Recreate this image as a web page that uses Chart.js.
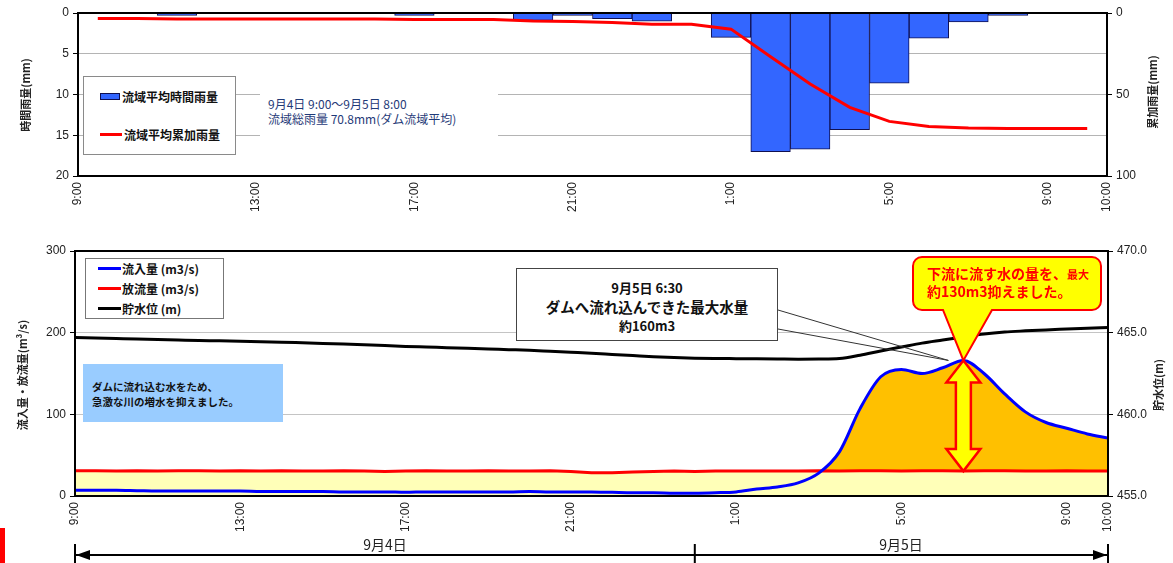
<!DOCTYPE html>
<html lang="ja">
<head>
<meta charset="utf-8">
<script src="https://cdn.jsdelivr.net/npm/chart.js@4.4.1/dist/chart.umd.min.js"></script>
<style>
  body { margin: 0; background: #fff; }
  #page { position: relative; width: 1173px; height: 563px; overflow: hidden; font-family: "Noto Sans CJK JP", sans-serif; }
  canvas { position: absolute; left: 0; }
  .box { position: absolute; box-sizing: border-box; }
  .title { position: absolute; transform: translate(-50%, -50%) rotate(-90deg); white-space: nowrap; font-size: 11px; font-weight: bold; color: #222; }
  .legend { display: flex; flex-direction: column; justify-content: space-around; background: #fff; }
  .legend .row { display: flex; align-items: center; white-space: nowrap; color: #111; }
  .day { position: absolute; transform: translate(-50%, -50%); font-size: 14px; color: #222; white-space: nowrap; }
</style>
</head>
<body>
<div id="page">
  <canvas id="rainChart" width="1173" height="230" style="top:0;width:1173px;height:230px"></canvas>
  <canvas id="flowChart" width="1173" height="333" style="top:230px;width:1173px;height:333px"></canvas>

  <!-- top chart overlays -->
  <div id="rainLegend" class="box legend" style="left:83px;top:76px;width:153px;height:79px;border:1px solid #8a8a8a;padding-left:16px;font-size:12px;font-weight:bold;"></div>
  <div class="box" style="left:260px;top:90px;width:238px;height:50px;background:#fff;padding:6px 0 0 8px;font-size:12px;line-height:15px;color:#1f3a78;white-space:nowrap;">
    9月4日 9:00～9月5日 8:00<br>流域総雨量 70.8mm(ダム流域平均)
  </div>
  <div class="title" style="left:25px;top:95px;">時間雨量(mm)</div>
  <div class="title" style="left:1152px;top:92px;">累加雨量(mm)</div>

  <!-- bottom chart overlays -->
  <div id="flowLegend" class="box legend" style="left:85px;top:258px;width:139px;height:61px;border:1px solid #777;padding-left:12px;font-size:12px;font-weight:bold;"></div>
  <div class="box" style="left:83px;top:364px;width:200px;height:58px;background:#99ccff;padding:15px 0 0 9px;font-size:10.5px;line-height:15px;font-weight:bold;color:#111;white-space:nowrap;">
    ダムに流れ込む水をため、<br>急激な川の増水を抑えました。
  </div>
  <div class="box" style="left:516px;top:268px;width:262px;height:73px;background:#fff;border:1.5px solid #444;text-align:center;font-weight:bold;color:#111;white-space:nowrap;">
    <div style="font-size:13px;line-height:19px;margin-top:9px;">9月5日 6:30</div>
    <div style="font-size:14.5px;line-height:19px;">ダムへ流れ込んできた最大水量</div>
    <div style="font-size:13px;line-height:19px;">約160m3</div>
  </div>
  <div class="box" style="left:913px;top:257px;width:188px;height:53px;padding:8px 0 0 14px;font-size:14px;line-height:17px;font-weight:bold;color:#ff0000;white-space:nowrap;">
    下流に流す水の量を、<span style="font-size:11px">最大</span><br>約130m3抑えました。
  </div>
  <div class="title" style="left:22px;top:375px;">流入量・放流量(m³/s)</div>
  <div class="title" style="left:1158px;top:385px;">貯水位(m)</div>
  <div class="day" style="left:385px;top:544px;">9月4日</div>
  <div class="day" style="left:901px;top:544px;">9月5日</div>
  <div class="box" style="left:0;top:528px;width:5px;height:35px;background:#ff0000;"></div>
</div>

<script>
// hourly rainfall, 9/4 9:00 - 9/5 10:00
const rainTimes = ['9:00', '10:00', '11:00', '12:00', '13:00', '14:00', '15:00', '16:00', '17:00', '18:00', '19:00', '20:00', '21:00',
  '22:00', '23:00', '0:00', '1:00', '2:00', '3:00', '4:00', '5:00', '6:00', '7:00', '8:00', '9:00', '10:00'];
const hourlyRain = [0, 0, 0.3, 0, 0, 0, 0, 0, 0.3, 0, 0, 0.9, 0.3, 0.7, 1.0, 0, 3.0, 17.0, 16.7, 14.3, 8.6, 3.1, 1.1, 0.3, 0, 0];
const cumulativeRain = [3.4, 3.4, 3.7, 3.7, 3.7, 3.7, 3.7, 3.7, 4.0, 4.0, 4.0, 4.9, 5.2, 5.9, 6.9, 6.9, 9.9, 26.9, 43.6, 57.9, 66.5, 69.6,
  70.5, 70.8, 70.8, 70.8];
const rainNames = ['流域平均時間雨量', '流域平均累加雨量'];

// dam flows every 30 minutes
const flowTimes = ['9:00', '9:30', '10:00', '10:30', '11:00', '11:30', '12:00', '12:30', '13:00', '13:30', '14:00', '14:30',
  '15:00', '15:30', '16:00', '16:30', '17:00', '17:30', '18:00', '18:30', '19:00', '19:30', '20:00', '20:30', '21:00', '21:30',
  '22:00', '22:30', '23:00', '23:30', '0:00', '0:30', '1:00', '1:30', '2:00', '2:30', '3:00', '3:30', '4:00', '4:30', '5:00',
  '5:30', '6:00', '6:30', '7:00', '7:30', '8:00', '8:30', '9:00', '9:30', '10:00'];
const inflow = [7, 7, 7, 6.5, 6, 6, 6, 6, 6, 5.5, 5.5, 5.5, 5.5, 5, 5, 5, 4.5, 5, 5, 5, 5, 5, 5.5, 5, 5, 5, 4.5, 4, 4, 3.5,
  3.5, 4, 5, 8.5, 11, 16, 28, 54, 107, 146, 155, 150, 157, 166, 150, 125, 103, 90, 83, 76, 71];
const outflow = [31, 31, 30.5, 31, 30.5, 31, 31, 30.5, 31, 30.5, 31, 30.5, 30.5, 31, 30.5, 30, 30.5, 31, 30.5, 30.5, 31, 30.5,
  30.5, 31, 30, 28.5, 28.5, 29.5, 30, 30.5, 30, 30.5, 30.5, 30.5, 30.5, 30.5, 31, 30.5, 31, 31, 30.5, 31, 31, 30.5, 31, 31,
  30.5, 30.5, 31, 30.5, 30.5];
const waterLevel = [464.70, 464.67, 464.64, 464.61, 464.58, 464.55, 464.52, 464.50, 464.47, 464.45, 464.42, 464.38, 464.34,
  464.30, 464.26, 464.22, 464.16, 464.12, 464.08, 464.04, 464.00, 463.96, 463.92, 463.86, 463.80, 463.74, 463.67, 463.60,
  463.53, 463.48, 463.44, 463.42, 463.41, 463.40, 463.39, 463.38, 463.39, 463.42, 463.62, 463.88, 464.12, 464.36, 464.55,
  464.74, 464.92, 465.04, 465.11, 465.17, 465.22, 465.27, 465.31];
const flowNames = ['流入量 (m3/s)', '放流量 (m3/s)', '貯水位 (m)'];

const axisTimeLabels = ['9:00', '13:00', '17:00', '21:00', '1:00', '5:00', '9:00', '10:00'];

// hours elapsed since the first 9:00, stepping over midnight
function toHours(times) {
  let day = 0, prev = -1;
  return times.map(t => {
    const [h, m] = t.split(':').map(Number);
    const v = h + m / 60;
    if (v < prev) day += 24;
    prev = v;
    return v - 9 + day;
  });
}

const rainX = toHours(rainTimes);
const flowX = toHours(flowTimes);
const tickHours = toHours(axisTimeLabels);

Chart.defaults.font.family = "'Liberation Sans Narrow', 'Liberation Sans', sans-serif";
Chart.defaults.font.size = 12;
Chart.defaults.color = '#222';

const framePlugin = {
  id: 'frame',
  afterDatasetsDraw(chart) {
    const { ctx, chartArea: a } = chart;
    ctx.save();
    ctx.strokeStyle = '#000';
    ctx.lineWidth = 2;
    ctx.strokeRect(a.left, a.top, a.right - a.left, a.bottom - a.top);
    ctx.restore();
  }
};

// top chart
new Chart(document.getElementById('rainChart'), {
  type: 'bar',
  data: {
    datasets: [
      {
        type: 'line',
        label: rainNames[1],
        data: rainX.map((x, i) => ({ x: x, y: cumulativeRain[i] })),
        yAxisID: 'y2',
        borderColor: '#ff0000',
        borderWidth: 3,
        pointRadius: 0,
        order: 0
      },
      {
        label: rainNames[0],
        data: rainX.map((x, i) => ({ x: x, y: hourlyRain[i] || null })),
        yAxisID: 'y',
        backgroundColor: '#3366ff',
        borderColor: '#101050',
        borderWidth: 1,
        barPercentage: 1,
        categoryPercentage: 1,
        order: 1
      }
    ]
  },
  options: {
    responsive: false,
    animation: false,
    layout: { padding: { top: 13, left: 0, right: 0, bottom: 0 } },
    plugins: { legend: { display: false }, tooltip: { enabled: false } },
    scales: {
      x: {
        type: 'linear',
        offset: false,
        min: rainX[0] - 0.5,
        max: rainX[rainX.length - 1] + 0.5,
        grid: { display: false, drawTicks: false, offset: false },
        border: { color: '#000', width: 2 },
        afterBuildTicks: s => {
          // first and last label sit on the axis ends, like the original
          s.ticks = tickHours.map((h, i) => ({ value: i === 0 ? s.min : (i === tickHours.length - 1 ? s.max : h) }));
        },
        ticks: { autoSkip: false, minRotation: 90, maxRotation: 90, padding: 6, callback: (v, i) => axisTimeLabels[i] },
        afterFit: s => { s.height = 54; }
      },
      y: {
        position: 'left',
        reverse: true,
        min: 0,
        max: 20,
        ticks: { stepSize: 5, padding: 4 },
        grid: { color: '#b4b4b4', tickColor: '#000', tickLength: 5 },
        border: { color: '#000', width: 2 },
        afterFit: s => { s.width = 78; }
      },
      y2: {
        position: 'right',
        reverse: true,
        min: 0,
        max: 100,
        ticks: { stepSize: 50, padding: 4 },
        grid: { drawOnChartArea: false, tickColor: '#000', tickLength: 5 },
        border: { color: '#000', width: 2 },
        afterFit: s => { s.width = 66; }
      }
    }
  },
  plugins: [framePlugin]
});

// arrows, balloon and the date bar of the bottom chart
const notesPlugin = {
  id: 'notes',
  afterDatasetsDraw(chart) {
    const { ctx, scales: { x, y } } = chart;
    const iPeak = inflow.indexOf(Math.max(...inflow));
    const px = x.getPixelForValue(flowX[iPeak]);
    const top = y.getPixelForValue(inflow[iPeak]);
    const bottom = y.getPixelForValue(outflow[iPeak]);
    ctx.save();

    // pointer of the white note box
    ctx.strokeStyle = '#333';
    ctx.lineWidth = 1;
    ctx.beginPath();
    ctx.moveTo(778, 80);
    ctx.lineTo(px - 15, top);
    ctx.lineTo(778, 99);
    ctx.stroke();

    // yellow balloon
    const x0 = 913, x1 = 1101, y0 = 27, y1 = 80, r = 9;
    ctx.beginPath();
    ctx.moveTo(x0 + r, y0);
    ctx.lineTo(x1 - r, y0);
    ctx.arcTo(x1, y0, x1, y0 + r, r);
    ctx.lineTo(x1, y1 - r);
    ctx.arcTo(x1, y1, x1 - r, y1, r);
    ctx.lineTo(992, y1);
    ctx.lineTo(px, top);
    ctx.lineTo(943, y1);
    ctx.lineTo(x0 + r, y1);
    ctx.arcTo(x0, y1, x0, y1 - r, r);
    ctx.lineTo(x0, y0 + r);
    ctx.arcTo(x0, y0, x0 + r, y0, r);
    ctx.closePath();
    ctx.fillStyle = '#ffff00';
    ctx.fill();
    ctx.strokeStyle = '#ff0000';
    ctx.lineWidth = 2;
    ctx.stroke();

    // double arrow between inflow peak and outflow
    const hw = 17, sw = 7.5, hl = 22;
    ctx.beginPath();
    ctx.moveTo(px, top);
    ctx.lineTo(px + hw, top + hl);
    ctx.lineTo(px + sw, top + hl);
    ctx.lineTo(px + sw, bottom - hl);
    ctx.lineTo(px + hw, bottom - hl);
    ctx.lineTo(px, bottom);
    ctx.lineTo(px - hw, bottom - hl);
    ctx.lineTo(px - sw, bottom - hl);
    ctx.lineTo(px - sw, top + hl);
    ctx.lineTo(px - hw, top + hl);
    ctx.closePath();
    ctx.fillStyle = '#ffff00';
    ctx.fill();
    ctx.strokeStyle = '#ff0000';
    ctx.lineWidth = 2.5;
    ctx.stroke();
    ctx.restore();
  },
  afterDraw(chart) {
    const { ctx, scales: { x } } = chart;
    const left = x.getPixelForValue(flowX[0]);
    const right = x.getPixelForValue(flowX[flowX.length - 1]);
    const midnight = x.getPixelForValue(flowX[flowTimes.indexOf('0:00')]);
    const yy = 325;
    ctx.save();
    ctx.strokeStyle = '#000';
    ctx.fillStyle = '#000';
    ctx.lineWidth = 2;
    ctx.beginPath();
    ctx.moveTo(left, yy);
    ctx.lineTo(right, yy);
    [left, midnight, right].forEach(p => { ctx.moveTo(p, yy - 11); ctx.lineTo(p, yy + 12); });
    ctx.stroke();
    ctx.beginPath();
    ctx.moveTo(left + 1, yy);
    ctx.lineTo(left + 15, yy - 5);
    ctx.lineTo(left + 15, yy + 5);
    ctx.closePath();
    ctx.moveTo(right - 1, yy);
    ctx.lineTo(right - 15, yy - 5);
    ctx.lineTo(right - 15, yy + 5);
    ctx.closePath();
    ctx.fill();
    ctx.restore();
  }
};

// bottom chart
new Chart(document.getElementById('flowChart'), {
  type: 'line',
  data: {
    datasets: [
      {
        label: flowNames[0],
        data: flowX.map((x, i) => ({ x: x, y: inflow[i] })),
        yAxisID: 'y',
        borderColor: '#0000ff',
        borderWidth: 3,
        pointRadius: 0,
        cubicInterpolationMode: 'monotone',
        fill: { target: 1, above: '#ffc000', below: 'rgba(0,0,0,0)' }
      },
      {
        label: flowNames[1],
        data: flowX.map((x, i) => ({ x: x, y: outflow[i] })),
        yAxisID: 'y',
        borderColor: '#ff0000',
        borderWidth: 3,
        pointRadius: 0,
        fill: { target: 'origin', above: '#ffffb8' }
      },
      {
        label: flowNames[2],
        data: flowX.map((x, i) => ({ x: x, y: waterLevel[i] })),
        yAxisID: 'y2',
        borderColor: '#000',
        borderWidth: 3,
        pointRadius: 0,
        cubicInterpolationMode: 'monotone'
      }
    ]
  },
  options: {
    responsive: false,
    animation: false,
    layout: { padding: { top: 21, left: 0, right: 0, bottom: 0 } },
    plugins: {
      legend: { display: false },
      tooltip: { enabled: false },
      filler: { drawTime: 'beforeDatasetsDraw' }
    },
    scales: {
      x: {
        type: 'linear',
        min: flowX[0],
        max: flowX[flowX.length - 1],
        grid: { display: false, drawTicks: false },
        border: { color: '#000', width: 2 },
        afterBuildTicks: s => { s.ticks = tickHours.map(h => ({ value: h })); },
        ticks: { autoSkip: false, minRotation: 90, maxRotation: 90, padding: 6, callback: (v, i) => axisTimeLabels[i] },
        afterFit: s => { s.height = 67; }
      },
      y: {
        position: 'left',
        min: 0,
        max: 300,
        ticks: { stepSize: 100, padding: 4 },
        grid: { color: '#c4c4c4', tickColor: '#000', tickLength: 5 },
        border: { color: '#000', width: 2 },
        afterFit: s => { s.width = 75; }
      },
      y2: {
        position: 'right',
        min: 455,
        max: 470,
        ticks: { stepSize: 5, padding: 4, callback: v => v.toFixed(1) },
        grid: { drawOnChartArea: false, tickColor: '#000', tickLength: 5 },
        border: { color: '#000', width: 2 },
        afterFit: s => { s.width = 65; }
      }
    }
  },
  plugins: [framePlugin, notesPlugin]
});

// html legends built from the series names
function buildLegend(el, names, swatches, textGap) {
  names.forEach((name, i) => {
    const row = document.createElement('div');
    row.className = 'row';
    const sw = document.createElement('span');
    sw.style.cssText = swatches[i] + ';display:inline-block;box-sizing:border-box;margin-right:' + textGap + 'px';
    const label = document.createElement('span');
    label.textContent = name;
    row.appendChild(sw);
    row.appendChild(label);
    el.appendChild(row);
  });
}
buildLegend(document.getElementById('rainLegend'), rainNames, [
  'width:20px;height:7px;background:#3366ff;border:1px solid #101050',
  'width:22px;height:3px;background:#ff0000'
], 2);
buildLegend(document.getElementById('flowLegend'), flowNames, [
  'width:23px;height:3px;background:#0000ff',
  'width:23px;height:3px;background:#ff0000',
  'width:23px;height:3px;background:#000'
], 1);
</script>
</body>
</html>
